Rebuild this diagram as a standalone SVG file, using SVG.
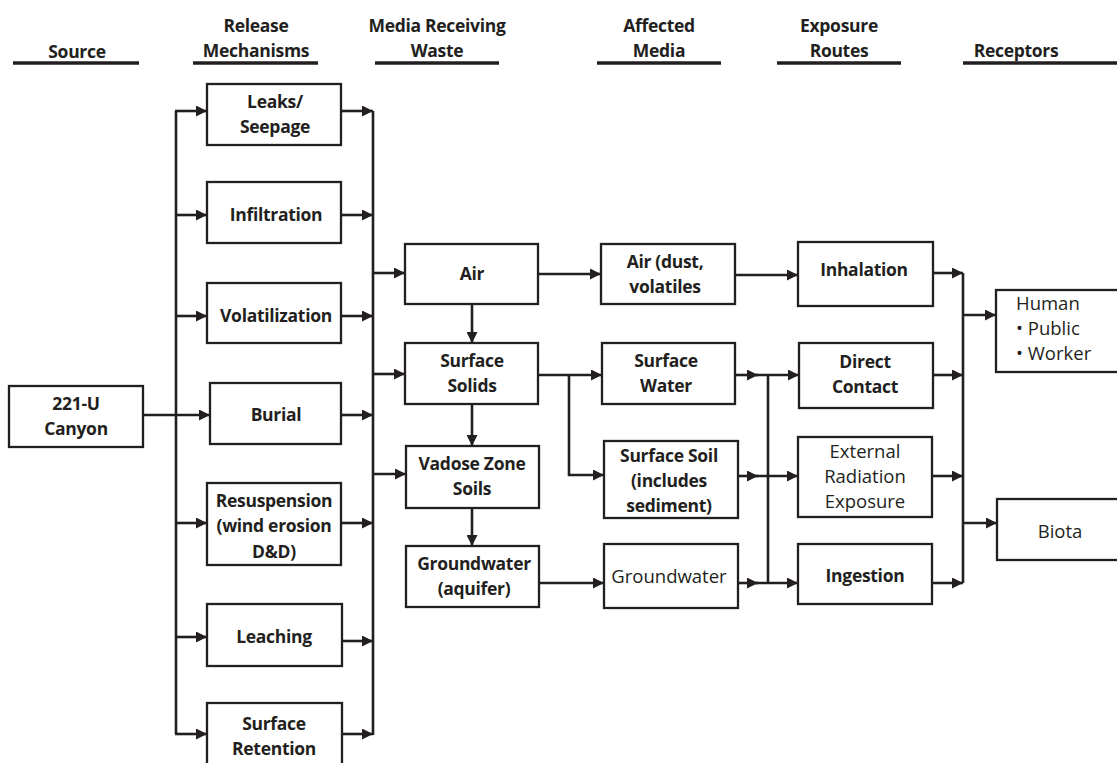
<svg xmlns="http://www.w3.org/2000/svg" width="1117" height="763" viewBox="0 0 1117 763">
  <style>
    .box { fill: #fff; stroke: #231f20; stroke-width: 2.3; }
    .t { font-family: "Open Sans", "Liberation Sans", sans-serif; font-weight: 700; font-size: 17.5px; fill: #231f20; text-anchor: middle; letter-spacing: -0.3px; }
    .r { font-family: "Open Sans", "Liberation Sans", sans-serif; font-weight: 400; font-size: 18.5px; fill: #231f20; text-anchor: middle; }
    .ls { text-anchor: start; }
    .hd { font-family: "Open Sans", "Liberation Sans", sans-serif; font-weight: 700; font-size: 17.5px; fill: #231f20; text-anchor: middle; letter-spacing: -0.3px; }
    .ul { stroke: #231f20; stroke-width: 3.3; }
    .c { fill: none; stroke: #231f20; stroke-width: 2.6; }
    .a { fill: none; stroke: #231f20; stroke-width: 2.6; marker-end: url(#ah); }
  </style>
  <defs>
    <marker id="ah" viewBox="0 0 10 10" refX="10" refY="5" markerWidth="12" markerHeight="11" markerUnits="userSpaceOnUse" orient="auto">
      <path d="M0,0 L10,5 L0,10 z" fill="#231f20"/>
    </marker>
  </defs>
  <rect width="1117" height="763" fill="#fff"/>

  <!-- column headings -->
  <g id="headers">
    <text class="hd" x="77" y="58">Source</text>
    <line class="ul" x1="13" y1="63" x2="139" y2="63"/>
    <text class="hd" x="256" y="32">Release</text>
    <text class="hd" x="256" y="57">Mechanisms</text>
    <line class="ul" x1="193" y1="63" x2="318" y2="63"/>
    <text class="hd" x="437" y="32">Media Receiving</text>
    <text class="hd" x="437" y="57">Waste</text>
    <line class="ul" x1="375" y1="63" x2="499" y2="63"/>
    <text class="hd" x="659" y="32">Affected</text>
    <text class="hd" x="659" y="57">Media</text>
    <line class="ul" x1="597" y1="63" x2="721" y2="63"/>
    <text class="hd" x="839" y="32">Exposure</text>
    <text class="hd" x="839" y="57">Routes</text>
    <line class="ul" x1="777" y1="63" x2="901" y2="63"/>
    <text class="hd" x="1016" y="57">Receptors</text>
    <line class="ul" x1="963" y1="63" x2="1117" y2="63"/>
  </g>

  <!-- connectors -->
  <g id="connectors">
    <!-- source to release mechanisms -->
    <line class="c" x1="143" y1="415" x2="176" y2="415"/>
    <line class="c" x1="176" y1="111" x2="176" y2="734"/>
    <line class="a" x1="175" y1="111" x2="207" y2="111"/>
    <line class="a" x1="175" y1="215" x2="207" y2="215"/>
    <line class="a" x1="175" y1="316" x2="207" y2="316"/>
    <line class="a" x1="175" y1="415" x2="210" y2="415"/>
    <line class="a" x1="175" y1="523" x2="207" y2="523"/>
    <line class="a" x1="175" y1="637" x2="207" y2="637"/>
    <line class="a" x1="175" y1="734" x2="207" y2="734"/>
    <!-- release mechanisms to media bus -->
    <line class="a" x1="341" y1="111" x2="373" y2="111"/>
    <line class="a" x1="341" y1="215" x2="373" y2="215"/>
    <line class="a" x1="341" y1="316" x2="373" y2="316"/>
    <line class="a" x1="341" y1="415" x2="373" y2="415"/>
    <line class="a" x1="341" y1="523" x2="373" y2="523"/>
    <line class="a" x1="342" y1="641" x2="373" y2="641"/>
    <line class="a" x1="342" y1="734" x2="373" y2="734"/>
    <line class="c" x1="373" y1="111" x2="373" y2="735"/>
    <line class="a" x1="373" y1="273" x2="405" y2="273"/>
    <line class="a" x1="373" y1="374" x2="405" y2="374"/>
    <line class="a" x1="373" y1="474" x2="406" y2="474"/>
    <!-- media receiving waste chain -->
    <line class="a" x1="472" y1="304" x2="472" y2="343"/>
    <line class="a" x1="472" y1="404" x2="472" y2="446"/>
    <line class="a" x1="472" y1="508" x2="472" y2="546"/>
    <!-- media receiving waste to affected media -->
    <line class="a" x1="538" y1="274" x2="601" y2="274"/>
    <line class="a" x1="538" y1="375" x2="602" y2="375"/>
    <polyline class="a" points="569,375 569,475 604,475"/>
    <line class="a" x1="539" y1="583" x2="604" y2="583"/>
    <!-- affected media to exposure routes -->
    <line class="a" x1="735" y1="275" x2="798" y2="275"/>
    <line class="a" x1="735" y1="375" x2="758" y2="375"/>
    <line class="a" x1="738" y1="476" x2="758" y2="476"/>
    <line class="a" x1="738" y1="583" x2="758" y2="583"/>
    <line class="c" x1="768" y1="375" x2="768" y2="583"/>
    <line class="a" x1="756" y1="375" x2="799" y2="375"/>
    <line class="a" x1="756" y1="476" x2="798" y2="476"/>
    <line class="a" x1="756" y1="583" x2="798" y2="583"/>
    <!-- exposure routes to receptors -->
    <line class="a" x1="933" y1="273" x2="963" y2="273"/>
    <line class="a" x1="933" y1="375" x2="963" y2="375"/>
    <line class="a" x1="932" y1="476" x2="963" y2="476"/>
    <line class="a" x1="932" y1="583" x2="963" y2="583"/>
    <line class="c" x1="963" y1="273" x2="963" y2="583"/>
    <line class="a" x1="963" y1="315" x2="996" y2="315"/>
    <line class="a" x1="963" y1="523" x2="997" y2="523"/>
  </g>

  <!-- source -->
  <g id="canyon">
    <rect class="box" x="9" y="386" width="134" height="61"/>
    <text class="t" x="76" y="410">221-U</text>
    <text class="t" x="76" y="435">Canyon</text>
  </g>

  <!-- release mechanisms -->
  <g id="leaks">
    <rect class="box" x="207" y="84" width="134" height="61"/>
    <text class="t" x="275" y="108">Leaks/</text>
    <text class="t" x="275" y="133">Seepage</text>
  </g>
  <g id="infiltration">
    <rect class="box" x="207" y="182" width="134" height="61"/>
    <text class="t" x="276" y="221">Infiltration</text>
  </g>
  <g id="volatilization">
    <rect class="box" x="207" y="283" width="134" height="60"/>
    <text class="t" x="276" y="322">Volatilization</text>
  </g>
  <g id="burial">
    <rect class="box" x="210" y="383" width="131" height="61"/>
    <text class="t" x="276" y="421">Burial</text>
  </g>
  <g id="resuspension">
    <rect class="box" x="207" y="483" width="134" height="82"/>
    <text class="t" x="274" y="507">Resuspension</text>
    <text class="t" x="274" y="532">(wind erosion</text>
    <text class="t" x="274" y="558">D&amp;D)</text>
  </g>
  <g id="leaching">
    <rect class="box" x="207" y="604" width="135" height="62"/>
    <text class="t" x="274" y="643">Leaching</text>
  </g>
  <g id="surface-retention">
    <rect class="box" x="207" y="703" width="135" height="70"/>
    <text class="t" x="274" y="730">Surface</text>
    <text class="t" x="274" y="755">Retention</text>
  </g>

  <!-- media receiving waste -->
  <g id="air">
    <rect class="box" x="405" y="244" width="133" height="60"/>
    <text class="t" x="472" y="280">Air</text>
  </g>
  <g id="surface-solids">
    <rect class="box" x="405" y="343" width="133" height="61"/>
    <text class="t" x="472" y="367">Surface</text>
    <text class="t" x="472" y="392">Solids</text>
  </g>
  <g id="vadose">
    <rect class="box" x="406" y="446" width="133" height="62"/>
    <text class="t" x="472" y="470">Vadose Zone</text>
    <text class="t" x="472" y="495">Soils</text>
  </g>
  <g id="aquifer">
    <rect class="box" x="406" y="546" width="133" height="61"/>
    <text class="t" x="474" y="570">Groundwater</text>
    <text class="t" x="474" y="595">(aquifer)</text>
  </g>

  <!-- affected media -->
  <g id="air-dust">
    <rect class="box" x="601" y="244" width="134" height="60"/>
    <text class="t" x="665" y="268">Air (dust,</text>
    <text class="t" x="665" y="293">volatiles</text>
  </g>
  <g id="surface-water">
    <rect class="box" x="602" y="343" width="133" height="61"/>
    <text class="t" x="666" y="367">Surface</text>
    <text class="t" x="666" y="392">Water</text>
  </g>
  <g id="surface-soil">
    <rect class="box" x="604" y="441" width="134" height="77"/>
    <text class="t" x="669" y="462">Surface Soil</text>
    <text class="t" x="669" y="487">(includes</text>
    <text class="t" x="669" y="512">sediment)</text>
  </g>
  <g id="groundwater">
    <rect class="box" x="604" y="544" width="134" height="64"/>
    <text class="r" x="669" y="583">Groundwater</text>
  </g>

  <!-- exposure routes -->
  <g id="inhalation">
    <rect class="box" x="798" y="242" width="135" height="64"/>
    <text class="t" x="864" y="276">Inhalation</text>
  </g>
  <g id="direct-contact">
    <rect class="box" x="799" y="343" width="134" height="65"/>
    <text class="t" x="865" y="368">Direct</text>
    <text class="t" x="865" y="393">Contact</text>
  </g>
  <g id="external-radiation">
    <rect class="box" x="798" y="437" width="134" height="80"/>
    <text class="r" x="865" y="458">External</text>
    <text class="r" x="865" y="483">Radiation</text>
    <text class="r" x="865" y="508">Exposure</text>
  </g>
  <g id="ingestion">
    <rect class="box" x="798" y="544" width="134" height="60"/>
    <text class="t" x="865" y="582">Ingestion</text>
  </g>

  <!-- receptors -->
  <g id="human">
    <rect class="box" x="996" y="290" width="130" height="82"/>
    <text class="r ls" x="1016" y="310">Human</text>
    <text class="r ls" x="1016" y="335">• Public</text>
    <text class="r ls" x="1016" y="360">• Worker</text>
  </g>
  <g id="biota">
    <rect class="box" x="997" y="499" width="130" height="61"/>
    <text class="r" x="1060" y="538">Biota</text>
  </g>
</svg>
